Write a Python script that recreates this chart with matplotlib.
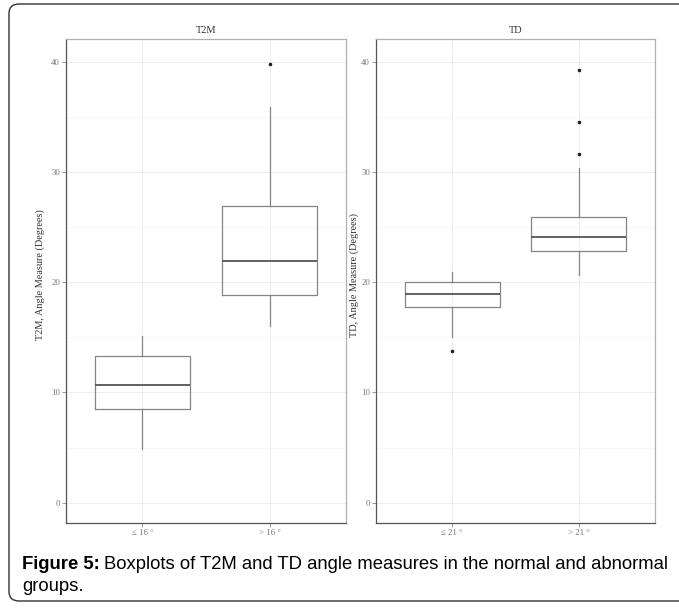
#imports
import matplotlib
matplotlib.use("Agg")
import matplotlib.pyplot as plt
from matplotlib.patches import FancyBboxPatch

#data (degrees)
panels = ["T2M", "TD"]
ylabels = ["T2M, Angle Measure (Degrees)", "TD, Angle Measure (Degrees)"]
groups = [["\u2264 16 \u00b0", "> 16 \u00b0"], ["\u2264 21 \u00b0", "> 21 \u00b0"]]

t2m_whislo = [4.85, 16.0]
t2m_q1 = [8.5, 18.85]
t2m_med = [10.65, 21.9]
t2m_q3 = [13.35, 26.95]
t2m_whishi = [15.1, 35.9]
t2m_fliers = [[], [39.8]]

td_whislo = [15.0, 20.7]
td_q1 = [17.8, 22.8]
td_med = [18.95, 24.15]
td_q3 = [20.05, 25.95]
td_whishi = [20.95, 30.4]
td_fliers = [[13.75], [31.65, 34.55, 39.3]]

yticks = [0, 10, 20, 30, 40]
yminor = [5, 15, 25, 35]

serif = ["Liberation Serif", "DejaVu Serif"]
sans = ["Liberation Sans", "DejaVu Sans"]

def make_stats(lo, q1, med, q3, hi, fl):
    return [dict(whislo=lo[i], q1=q1[i], med=med[i], q3=q3[i], whishi=hi[i], fliers=fl[i])
            for i in range(len(med))]

stats = [make_stats(t2m_whislo, t2m_q1, t2m_med, t2m_q3, t2m_whishi, t2m_fliers),
         make_stats(td_whislo, td_q1, td_med, td_q3, td_whishi, td_fliers)]

fig = plt.figure(figsize=(6.79, 6.10), dpi=100)

#outer frame of the figure page
frame = FancyBboxPatch((9/679, 9/610), 700/679, 597/610,
                       boxstyle="round,pad=0,rounding_size=0.015",
                       transform=fig.transFigure, fill=False,
                       edgecolor="#333333", linewidth=1.0, clip_on=False)
fig.patches.append(frame)

ax_pos = [[66/679, 1-523/610, 280/679, 484/610],
          [376/679, 1-523/610, 279/679, 484/610]]
ylabel_x = [40/679, 354/679]

for k in range(2):
    ax = fig.add_axes(ax_pos[k])
    ax.bxp(stats[k], positions=[1, 2], widths=0.75, showcaps=False,
           boxprops=dict(color="#858585", linewidth=0.9),
           whiskerprops=dict(color="#858585", linewidth=0.9),
           medianprops=dict(color="#555555", linewidth=1.3),
           flierprops=dict(marker="o", markersize=1.6, markerfacecolor="#222222",
                           markeredgecolor="#222222", linestyle="none"))
    ax.set_xlim(0.4, 2.6)
    ax.set_ylim(-1.84, 42.07)
    ax.set_yticks(yticks)
    ax.set_yticks(yminor, minor=True)
    ax.set_xticks([1, 2])
    ax.set_xticklabels(groups[k], family=serif, fontsize=6.3, color="#777777")
    ax.set_yticklabels([str(v) for v in yticks], family=serif, fontsize=6.3, color="#777777")
    ax.tick_params(axis="both", which="major", length=3, width=0.6, color="#888888", pad=1.2)
    ax.tick_params(axis="y", which="minor", length=0)
    ax.grid(True, which="major", color="#ececec", linewidth=0.6)
    ax.grid(True, which="minor", axis="y", color="#f4f4f4", linewidth=0.5)
    ax.set_axisbelow(True)
    for side in ["top", "right"]:
        ax.spines[side].set_color("#b0b0b0")
    for side in ["left", "bottom"]:
        ax.spines[side].set_color("#555555")
    for s in ax.spines.values():
        s.set_linewidth(0.9)
    ax.set_title(panels[k], family=serif, fontsize=7.5, color="#333333", pad=4)
    ax.set_ylabel(ylabels[k], family=serif, fontsize=7.4, color="#333333")
    ax.yaxis.set_label_coords(ylabel_x[k], 1 - 275/610, transform=fig.transFigure)
    ax.yaxis.label.set_va("center")

#caption
fig.canvas.draw()
rend = fig.canvas.get_renderer()
bold = fig.text(22/679, 1-569/610, "Figure 5:", family=sans, fontsize=13.35,
                fontweight="bold", va="baseline", ha="left")
bb = bold.get_window_extent(renderer=rend)
fig.text((bb.x1 + 4)/679, 1-569/610, "Boxplots of T2M and TD angle measures in the normal and abnormal",
         family=sans, fontsize=13.35, va="baseline", ha="left")
fig.text(22/679, 1-591/610, "groups.", family=sans, fontsize=13.35, va="baseline", ha="left")

fig.savefig("out.png", dpi=100)
